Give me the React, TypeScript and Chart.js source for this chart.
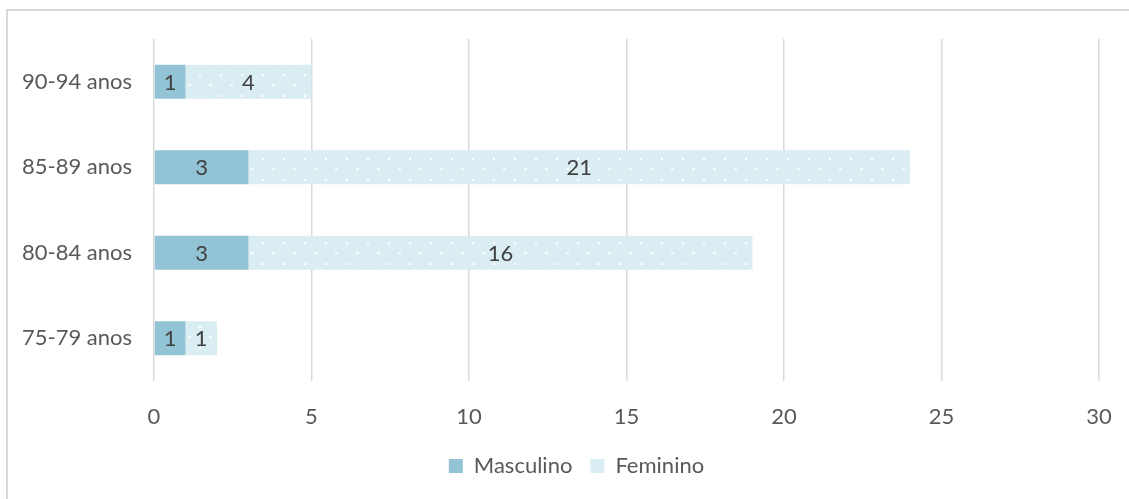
import React, { useEffect, useRef } from "react";
import { Chart, registerables } from "chart.js";

Chart.register(...registerables);

const categories = ["90-94 anos", "85-89 anos", "80-84 anos", "75-79 anos"];
const masculino = [1, 3, 3, 1];
const feminino = [4, 21, 16, 1];
const seriesNames = ["Masculino", "Feminino"];
const xMax = 30;
const xStep = 5;

const FONT = "Lato, 'Open Sans', sans-serif";
const FONT_SIZE = 22;
const MASC_COLOR = "#93c4d5";
const FEM_COLOR = "#daedf3";

function makeDotPattern(): CanvasPattern | string {
  const c = document.createElement("canvas");
  c.width = 21;
  c.height = 21;
  const ctx = c.getContext("2d");
  if (!ctx) return FEM_COLOR;
  ctx.fillStyle = FEM_COLOR;
  ctx.fillRect(0, 0, 21, 21);
  ctx.fillStyle = "#ffffff";
  ctx.fillRect(3, 1, 2, 2);
  ctx.fillRect(13, 11.5, 3, 1.5);
  const p = ctx.createPattern(c, "repeat");
  return p || FEM_COLOR;
}

const valueLabels = {
  id: "valueLabels",
  afterDatasetsDraw(chart: any) {
    const ctx = chart.ctx;
    ctx.save();
    ctx.font = `${FONT_SIZE}px ${FONT}`;
    ctx.fillStyle = "#404040";
    ctx.textAlign = "center";
    ctx.textBaseline = "middle";
    chart.data.datasets.forEach((ds: any, di: number) => {
      const meta = chart.getDatasetMeta(di);
      meta.data.forEach((bar: any, i: number) => {
        const v = ds.data[i];
        const { x, y, base } = bar.getProps(["x", "y", "base"], true);
        ctx.fillText(String(v), (x + base) / 2, y + 1);
      });
    });
    ctx.restore();
  },
};

// Excel centres the legend a bit right of the canvas centre
const legendShift = {
  id: "legendShift",
  afterLayout(chart: any) {
    const lg = chart.legend;
    if (lg) {
      lg.left += 47;
      lg.width -= 47;
    }
  },
};

export default function App() {
  const ref = useRef<HTMLCanvasElement>(null);
  useEffect(() => {
    if (!ref.current) return;
    const pattern = makeDotPattern();
    const chart = new Chart(ref.current, {
      type: "bar",
      data: {
        labels: categories,
        datasets: [
          {
            label: seriesNames[0],
            data: masculino,
            backgroundColor: MASC_COLOR,
            borderWidth: 0,
            barPercentage: 0.4,
            categoryPercentage: 1,
          },
          {
            label: seriesNames[1],
            data: feminino,
            backgroundColor: pattern as any,
            borderWidth: 0,
            barPercentage: 0.4,
            categoryPercentage: 1,
          },
        ],
      },
      options: {
        indexAxis: "y",
        animation: false,
        responsive: false,
        maintainAspectRatio: false,
        layout: { padding: { top: 29, right: 30, left: 0, bottom: 12 } },
        scales: {
          x: {
            stacked: true,
            min: 0,
            max: xMax,
            ticks: {
              stepSize: xStep,
              color: "#595959",
              font: { family: FONT, size: FONT_SIZE },
              padding: 3,
              maxRotation: 0,
            },
            grid: {
              color: "#d9d9d9",
              lineWidth: 1.5,
              drawTicks: true,
              tickLength: 20,
              tickColor: "transparent",
            },
            border: { display: false },
            afterFit(scale: any) {
              scale.height = 56;
            },
          },
          y: {
            stacked: true,
            ticks: {
              color: "#595959",
              font: { family: FONT, size: FONT_SIZE },
              padding: 3,
            },
            grid: {
              display: true,
              drawOnChartArea: false,
              drawTicks: true,
              tickLength: 19,
              tickColor: "transparent",
            },
            border: { display: false },
            afterFit(scale: any) {
              scale.width = 147;
            },
          },
        },
        plugins: {
          legend: {
            position: "bottom",
            labels: {
              color: "#595959",
              font: { family: FONT, size: FONT_SIZE },
              boxWidth: 14,
              boxHeight: 14,
              padding: 18,
              generateLabels(chart: any) {
                return chart.data.datasets.map((ds: any, i: number) => ({
                  text: ds.label,
                  fillStyle: i === 0 ? MASC_COLOR : FEM_COLOR,
                  strokeStyle: "transparent",
                  lineWidth: 0,
                  hidden: false,
                  datasetIndex: i,
                  fontColor: "#595959",
                }));
              },
            },
          },
          tooltip: { enabled: false },
        },
      },
      plugins: [valueLabels, legendShift],
    });
    return () => chart.destroy();
  }, []);

  return (
    <div
      style={{
        position: "absolute",
        left: 6,
        top: 9,
        width: 1130,
        height: 500,
        border: "2px solid #d9d9d9",
        boxSizing: "border-box",
        background: "#fff",
      }}
    >
      <canvas
        ref={ref}
        width={1122}
        height={489}
        style={{ position: "absolute", left: -1, top: -1, width: 1122, height: 489 }}
      />
    </div>
  );
}
